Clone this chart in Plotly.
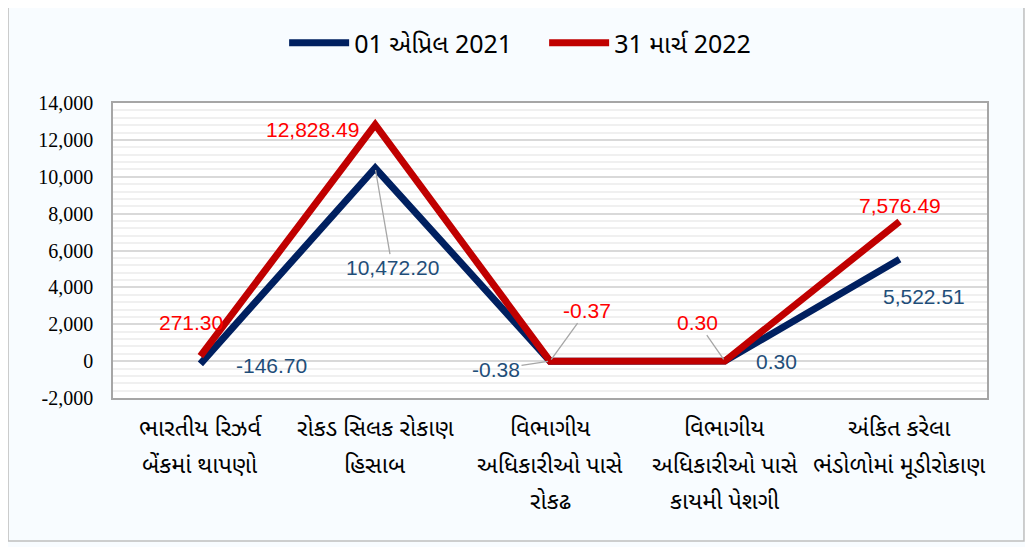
import plotly.graph_objects as go

categories = [
    ["ભારતીય રિઝર્વ", "બેંકમાં થાપણો"],
    ["રોકડ સિલક રોકાણ", "હિસાબ"],
    ["વિભાગીય", "અધિકારીઓ પાસે", "રોકઢ"],
    ["વિભાગીય", "અધિકારીઓ પાસે", "કાયમી પેશગી"],
    ["અંકિત કરેલા", "ભંડોળોમાં મૂડીરોકાણ"],
]
series_2021_name = "01 એપ્રિલ 2021"
series_2022_name = "31 માર્ચ 2022"
values_2021 = [-146.70, 10472.20, -0.38, 0.30, 5522.51]
values_2022 = [271.30, 12828.49, -0.37, 0.30, 7576.49]
y_ticks = [-2000, 0, 2000, 4000, 6000, 8000, 10000, 12000, 14000]
y_tick_text = ["-2,000", "0", "2,000", "4,000", "6,000", "8,000", "10,000", "12,000", "14,000"]

x = list(range(len(categories)))
GU = "Noto Sans Gujarati"

fig = go.Figure()
fig.add_trace(go.Scatter(x=x, y=values_2021, mode="lines", name=series_2021_name,
                         line=dict(color="#002060", width=7)))
fig.add_trace(go.Scatter(x=x, y=values_2022, mode="lines", name=series_2022_name,
                         line=dict(color="#C00000", width=7)))

def fmt(v):
    return f"{v:,.2f}"

# (dx, dy, leader) offsets of label centre from point, in pixels
off_2021 = [(71, 2, False), (17, 99, True), (-54, 8, True), (52, 0, False), (24, 37, False)]
off_2022 = [(-9, -34, False), (-63, 5, False), (37, -51, True), (-27, -39, True), (0, -16, False)]

anns = []
for vals, offs, col in [(values_2021, off_2021, "#1F4E79"), (values_2022, off_2022, "#FF0000")]:
    for i, (v, (dx, dy, lead)) in enumerate(zip(vals, offs)):
        a = dict(x=x[i], y=v, xref="x", yref="y", text=fmt(v),
                 font=dict(family="Liberation Sans", size=21, color=col))
        if lead:
            a.update(showarrow=True, ax=dx, ay=dy, arrowhead=0, arrowwidth=1.3,
                     arrowcolor="#A6A6A6", standoff=2)
        else:
            a.update(showarrow=False, xshift=dx, yshift=-dy)
        anns.append(a)

# category labels (multi-line, wide line spacing)
for i, lines in enumerate(categories):
    for j, line in enumerate(lines):
        anns.append(dict(x=x[i], y=0, xref="x", yref="paper", text=line, showarrow=False,
                         yanchor="middle", yshift=-32 - 36.5 * j,
                         font=dict(family=GU, size=23.5, color="#000000")))

fig.update_layout(
    width=1033, height=547,
    margin=dict(l=105, r=54, t=95, b=157),
    paper_bgcolor="#F8FCFF",
    plot_bgcolor="#FFFFFF",
    showlegend=True,
    legend=dict(orientation="h", xref="container", x=0.519, xanchor="center",
                yref="container", y=0.936, yanchor="middle",
                font=dict(family=GU, size=25, color="#000000"),
                bgcolor="rgba(0,0,0,0)", itemwidth=60, entrywidth=185, tracegroupgap=0),
    annotations=anns,
    shapes=[
        dict(type="rect", xref="paper", yref="paper", x0=-0.1201, x1=1.0423,
             y0=-0.4847, y1=1.3254, line=dict(color="#BFBFBF", width=1.5),
             fillcolor="rgba(0,0,0,0)", layer="below"),
    ],
)
fig.update_xaxes(range=[-0.5, 4.5], showticklabels=False, showgrid=False, zeroline=False,
                 showline=True, mirror=True, linecolor="#A6A6A6", linewidth=1.5)
fig.update_yaxes(range=[-2000, 14000], tickvals=y_ticks, ticktext=y_tick_text,
                 tickfont=dict(family="Liberation Serif", size=20, color="#000000"),
                 showgrid=True, gridcolor="#D9D9D9", gridwidth=1.5,
                 minor=dict(dtick=400, showgrid=True, gridcolor="#F0F0F0", gridwidth=2),
                 zeroline=False, showline=True, mirror=True, linecolor="#A6A6A6", linewidth=1.5,
                 ticklabelstandoff=14)

fig.write_html("out.html")
